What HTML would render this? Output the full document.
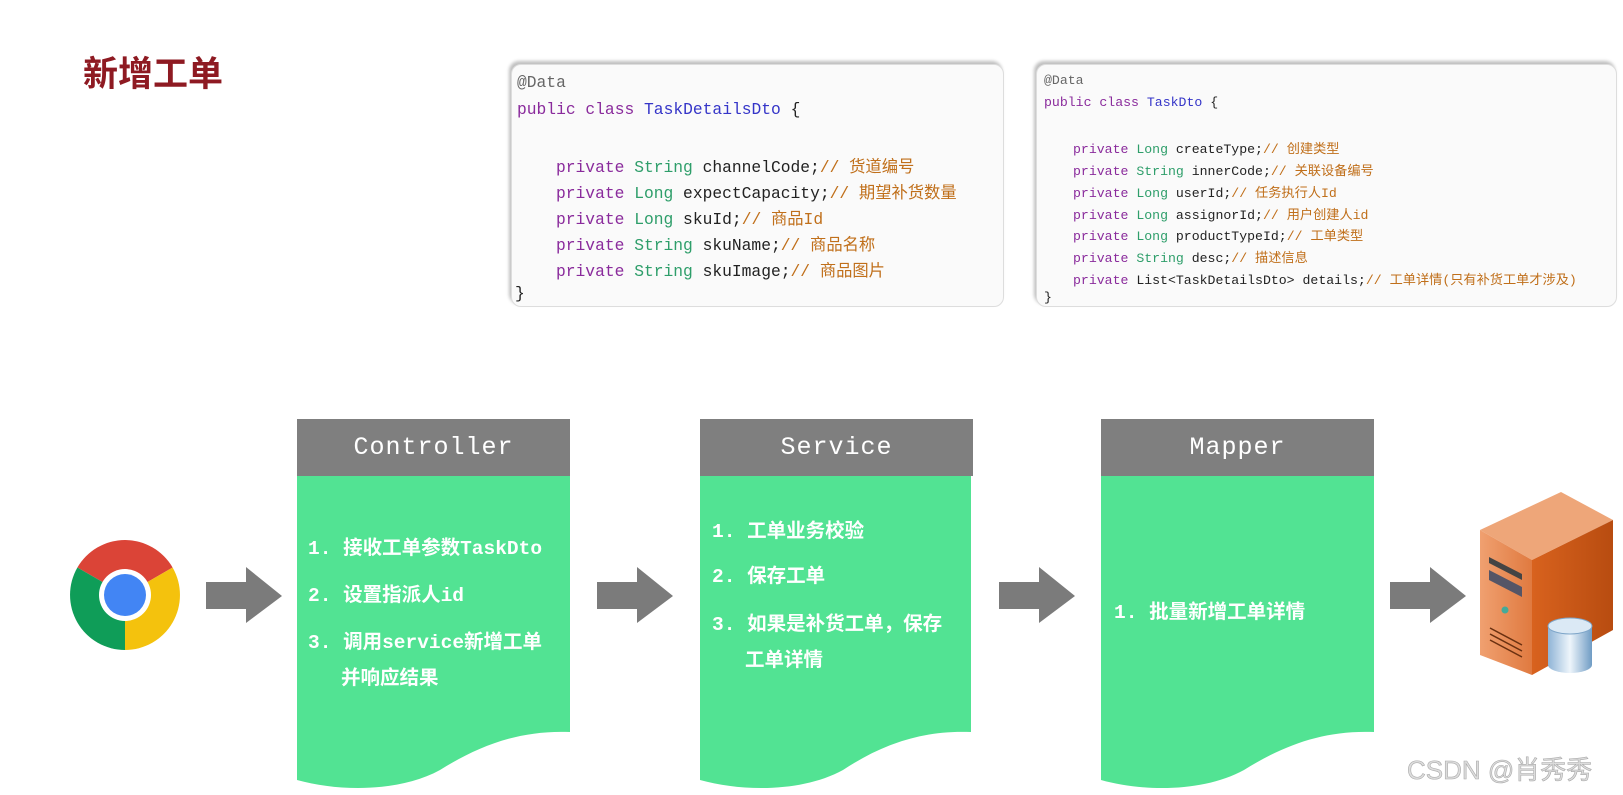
<!DOCTYPE html>
<html><head><meta charset="utf-8"><style>
*{margin:0;padding:0;box-sizing:border-box}
body{width:1623px;height:795px;background:#fff;position:relative;overflow:hidden;font-family:"Liberation Sans","Noto Sans CJK SC",sans-serif}
.abs{position:absolute}
.title{left:83px;top:46px;font-size:35px;font-weight:bold;color:#8e1a22;letter-spacing:0px;font-family:"Noto Sans CJK SC",sans-serif}
.code{position:absolute;background:#fafafa;border-radius:10px;border:1px solid #ddd;box-shadow:-2px -3px 3px rgba(0,0,0,.25);font-family:"Liberation Mono","Noto Sans CJK SC",monospace;color:#222;white-space:pre}
.code div{position:absolute;left:0}
.p{color:#8a2b9c}.t{color:#2e9e6a}.c{color:#3535c8}.m{color:#c06f1a}.a{color:#666}
.hdr{position:absolute;top:419px;height:57px;width:273px;background:#7f7f7f;color:#fff;font-family:"Liberation Mono","DejaVu Sans Mono",monospace;font-size:25px;text-align:center;line-height:57px;letter-spacing:1px}
.txt{position:absolute;color:#fff;font-family:"Liberation Mono","Noto Sans CJK SC",monospace;font-size:19.5px;font-weight:bold;white-space:pre}
.wm{left:1407px;top:750px;font-size:26px;color:#ddd;-webkit-text-stroke:0.6px #aaa;font-family:"Liberation Sans","Noto Sans CJK SC",sans-serif}
</style></head><body>
<div class="abs title">新增工单</div>

<div class="code" style="left:511px;top:64px;width:493px;height:243px;font-size:16.3px">
<div style="left:5px;top:8px" class="a">@Data</div>
<div style="left:5px;top:35px"><span class="p">public class</span> <span class="c">TaskDetailsDto</span> {</div>
<div style="left:44px;top:88px"><span class="p">private</span> <span class="t">String</span> channelCode;<span class="m">// 货道编号</span></div>
<div style="left:44px;top:114px"><span class="p">private</span> <span class="t">Long</span> expectCapacity;<span class="m">// 期望补货数量</span></div>
<div style="left:44px;top:140px"><span class="p">private</span> <span class="t">Long</span> skuId;<span class="m">// 商品Id</span></div>
<div style="left:44px;top:166px"><span class="p">private</span> <span class="t">String</span> skuName;<span class="m">// 商品名称</span></div>
<div style="left:44px;top:192px"><span class="p">private</span> <span class="t">String</span> skuImage;<span class="m">// 商品图片</span></div>
<div style="left:3px;top:219px">}</div>
</div>

<div class="code" style="left:1036px;top:64px;width:581px;height:243px;font-size:13.2px">
<div style="left:7px;top:8px" class="a">@Data</div>
<div style="left:7px;top:30px"><span class="p">public class</span> <span class="c">TaskDto</span> {</div>
<div style="left:36px;top:73px"><span class="p">private</span> <span class="t">Long</span> createType;<span class="m">// 创建类型</span></div>
<div style="left:36px;top:95px"><span class="p">private</span> <span class="t">String</span> innerCode;<span class="m">// 关联设备编号</span></div>
<div style="left:36px;top:117px"><span class="p">private</span> <span class="t">Long</span> userId;<span class="m">// 任务执行人Id</span></div>
<div style="left:36px;top:139px"><span class="p">private</span> <span class="t">Long</span> assignorId;<span class="m">// 用户创建人id</span></div>
<div style="left:36px;top:160px"><span class="p">private</span> <span class="t">Long</span> productTypeId;<span class="m">// 工单类型</span></div>
<div style="left:36px;top:182px"><span class="p">private</span> <span class="t">String</span> desc;<span class="m">// 描述信息</span></div>
<div style="left:36px;top:204px"><span class="p">private</span> List&lt;TaskDetailsDto&gt; details;<span class="m">// 工单详情(只有补货工单才涉及)</span></div>
<div style="left:7px;top:225px">}</div>
</div>

<svg class="abs" style="left:0;top:0" width="1623" height="795">
<defs>
<linearGradient id="srvF" x1="0" x2="1"><stop offset="0" stop-color="#f0a070"/><stop offset="1" stop-color="#e07a40"/></linearGradient>
<linearGradient id="srvS" x1="0" x2="1"><stop offset="0" stop-color="#d8621e"/><stop offset="1" stop-color="#b84c10"/></linearGradient>
<linearGradient id="cyl" x1="0" x2="1"><stop offset="0" stop-color="#8fb4d6"/><stop offset=".5" stop-color="#eef5fb"/><stop offset="1" stop-color="#6f9cc4"/></linearGradient>
</defs>
<g fill="#52e393">
<path d="M297,476 H570 V732 C520,730 480,745 440,770 C400,792 340,792 297,780 Z"/>
<path d="M700,476 H971 V732 C921,730 881,745 843,770 C803,792 743,792 700,780 Z"/>
<path d="M1101,476 H1374 V732 C1324,730 1284,745 1244,770 C1204,792 1144,792 1101,780 Z"/>
</g>
<g fill="#7b7b7b">
<path d="M206,582 H246 V567 L282,596 L246,623 V609 H206 Z"/>
<path d="M597,582 H637 V567 L673,596 L637,623 V609 H597 Z"/>
<path d="M999,582 H1039 V567 L1075,596 L1039,623 V609 H999 Z"/>
<path d="M1390,582 H1430 V567 L1466,596 L1430,623 V609 H1390 Z"/>
</g>
<g transform="translate(125,595)">
<path d="M0,0 L-47.6,-27.5 A55,55 0 0 1 47.6,-27.5 Z" fill="#db4437"/>
<path d="M0,0 L47.6,-27.5 A55,55 0 0 1 0,55 Z" fill="#f4c20d"/>
<path d="M0,0 L0,55 A55,55 0 0 1 -47.6,-27.5 Z" fill="#0f9d58"/>
<circle r="26" fill="#fff"/>
<circle r="21" fill="#4285f4"/>
</g>
<path d="M1480,530 L1561,492 L1613,520 L1532,560 Z" fill="#eea679"/>
<path d="M1480,530 L1532,560 L1532,675 L1480,655 Z" fill="url(#srvF)"/>
<path d="M1532,560 L1613,520 L1613,630 L1532,675 Z" fill="url(#srvS)"/>
<path d="M1489,557 L1522,574 L1522,580 L1489,563 Z" fill="#444"/>
<path d="M1489,570 L1522,587 L1522,597 L1489,580 Z" fill="#556"/>
<circle cx="1505" cy="610" r="3.5" fill="#4a9"/>
<path d="M1490,628 L1522,645 M1490,634 L1522,651 M1490,640 L1522,657" stroke="#6a3010" stroke-width="1.5"/>
<path d="M1548,626 V665 A22,8 0 0 0 1592,665 V626 Z" fill="url(#cyl)"/>
<ellipse cx="1570" cy="626" rx="22" ry="8" fill="#dbe9f5" stroke="#7fa6c9"/>
</svg>

<div class="hdr" style="left:297px">Controller</div>
<div class="hdr" style="left:700px">Service</div>
<div class="hdr" style="left:1101px">Mapper</div>

<div class="txt" style="left:308px;top:531px">1. 接收工单参数TaskDto</div>
<div class="txt" style="left:308px;top:578px">2. 设置指派人id</div>
<div class="txt" style="left:308px;top:625px">3. 调用service新增工单</div>
<div class="txt" style="left:341px;top:661px">并响应结果</div>

<div class="txt" style="left:712px;top:514px">1. 工单业务校验</div>
<div class="txt" style="left:712px;top:559px">2. 保存工单</div>
<div class="txt" style="left:712px;top:607px">3. 如果是补货工单，保存</div>
<div class="txt" style="left:745px;top:643px">工单详情</div>

<div class="txt" style="left:1114px;top:595px">1. 批量新增工单详情</div>

<div class="abs wm">CSDN @肖秀秀</div>
</body></html>
